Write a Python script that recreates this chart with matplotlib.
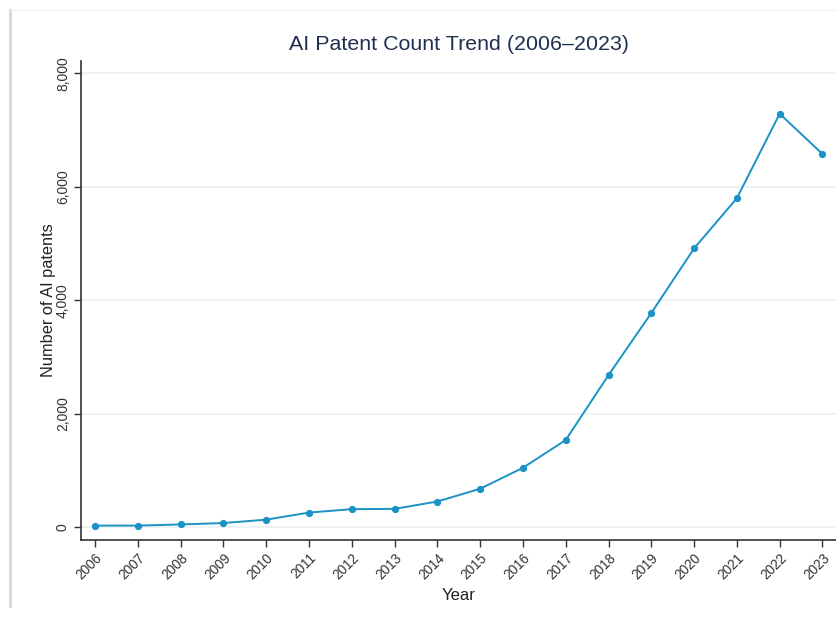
import numpy as np
import matplotlib
matplotlib.use('Agg')
import matplotlib.pyplot as plt
from matplotlib.lines import Line2D

plt.rcParams['font.family'] = ['Liberation Sans', 'DejaVu Sans']

# AI patent counts
years = [2006, 2007, 2008, 2009, 2010, 2011, 2012, 2013, 2014,
         2015, 2016, 2017, 2018, 2019, 2020, 2021, 2022, 2023]
patents = [25, 25, 45, 70, 130, 255, 315, 320, 450,
           675, 1045, 1535, 2680, 3775, 4915, 5800, 7290, 6580]
y_ticks = [0, 2000, 4000, 6000, 8000]

line_col = '#1a93c4'
grid_col = '#e8f1f3'

fig = plt.figure(figsize=(8.37, 6.19), dpi=100)
ax = fig.add_axes([81 / 837, 1 - 540 / 619, 1 - 81 / 837, (540 - 61) / 619])

ax.plot(years, patents, color=line_col, lw=1.4, marker='o', ms=4.2,
        markerfacecolor=line_col, markeredgecolor=line_col, zorder=3)

ax.set_xlim(2005.67, 2023.34)
ax.set_ylim(-229, 8220)
ax.set_yticks(y_ticks)
ax.set_yticklabels([f'{v:,}' for v in y_ticks], rotation=90, va='center',
                   fontsize=10, color='#333333')
ax.set_xticks(years)
ax.set_xticklabels([str(y) for y in years], rotation=45, ha='right',
                   rotation_mode='anchor', fontsize=9.8, color='#333333')
ax.tick_params(axis='both', length=5, width=1, color='#333333')
ax.tick_params(axis='y', pad=3)
ax.tick_params(axis='x', pad=3)

ax.grid(axis='y', color=grid_col, lw=1.2, zorder=0)
ax.set_axisbelow(True)
for s in ['top', 'right']:
    ax.spines[s].set_visible(False)
for s in ['left', 'bottom']:
    ax.spines[s].set_color('#333333')
    ax.spines[s].set_linewidth(1.2)

ax.set_xlabel('Year', fontsize=12, color='#222222', labelpad=4)
ax.set_ylabel('Number of AI patents', fontsize=11.8, color='#222222', labelpad=0)
fig.text(459 / 837, 1 - 45 / 619, 'AI Patent Count Trend (2006\u20132023)',
         ha='center', va='center', fontsize=15.4, color='#1e2f4f')

# faint screenshot frame on the left and top
fig.add_artist(Line2D([10 / 837, 10 / 837], [1 - 606 / 619, 1 - 10 / 619],
                      transform=fig.transFigure, color='#d6d6d6', lw=2))
fig.add_artist(Line2D([10 / 837, 1], [1 - 10 / 619, 1 - 10 / 619],
                      transform=fig.transFigure, color='#eef2f4', lw=1))

fig.savefig('out.png', dpi=100)
